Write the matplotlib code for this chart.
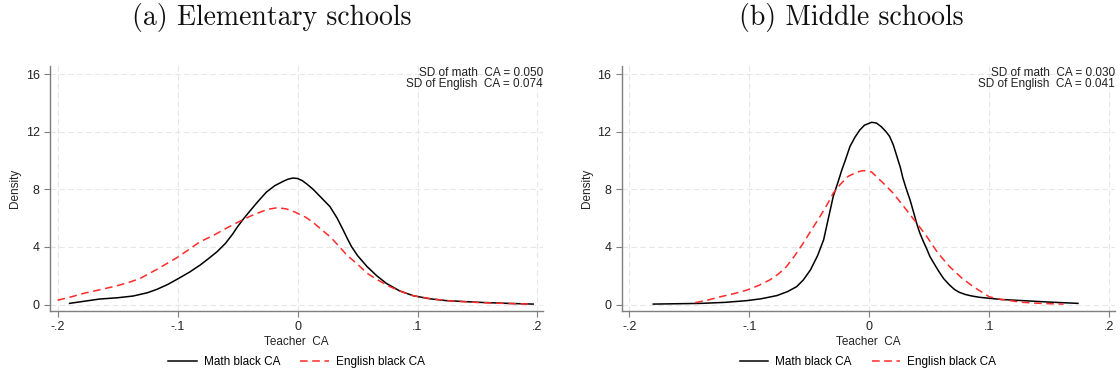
import matplotlib
matplotlib.use("Agg")
import matplotlib.pyplot as plt

# ---- data ----
elem_math_x = [-0.19, -0.165, -0.15, -0.137, -0.125, -0.117, -0.108, -0.1, -0.09, -0.081,
               -0.074, -0.067, -0.06, -0.054, -0.05, -0.045, -0.04, -0.033, -0.026, -0.019,
               -0.012, -0.008, -0.004, 0.0, 0.004, 0.008, 0.013, 0.02, 0.027,
               0.033, 0.038, 0.042, 0.045, 0.05, 0.058, 0.066, 0.074, 0.085, 0.0965, 0.11,
               0.124, 0.152, 0.175, 0.1965]
elem_math_y = [0.08, 0.38, 0.47, 0.59, 0.82, 1.06, 1.4, 1.77, 2.25, 2.75,
               3.2, 3.67, 4.25, 4.9, 5.4, 5.95, 6.46, 7.15, 7.8, 8.25,
               8.55, 8.7, 8.78, 8.75, 8.6, 8.35, 8.0, 7.4, 6.8,
               6.0, 5.18, 4.5, 4.02, 3.4, 2.63, 2.0, 1.47, 0.95, 0.61, 0.4,
               0.27, 0.15, 0.08, 0.03]

elem_eng_x = [-0.2, -0.19, -0.178, -0.165, -0.151, -0.14, -0.131, -0.117, -0.1, -0.09,
              -0.081, -0.07, -0.062, -0.05, -0.04, -0.03, -0.024, -0.017, -0.01, -0.005,
              -0.0007, 0.007, 0.013, 0.02, 0.027, 0.034, 0.041, 0.05, 0.058, 0.067,
              0.077, 0.0865, 0.0965, 0.11, 0.124, 0.15, 0.175, 0.1965]
elem_eng_y = [0.3, 0.5, 0.78, 1.02, 1.29, 1.55, 1.82, 2.45, 3.28, 3.85,
              4.37, 4.8, 5.18, 5.7, 6.11, 6.45, 6.62, 6.72, 6.65, 6.52,
              6.36, 6.05, 5.7, 5.2, 4.72, 4.1, 3.44, 2.8, 2.17, 1.7,
              1.24, 0.9, 0.61, 0.42, 0.27, 0.14, 0.07, 0.03]

mid_math_x = [-0.18, -0.14, -0.12, -0.102, -0.09, -0.077, -0.068, -0.0605, -0.055, -0.049,
              -0.046, -0.043, -0.038, -0.034, -0.03, -0.026, -0.023, -0.02, -0.016, -0.012,
              -0.008, -0.004, 0.002, 0.006, 0.01, 0.014, 0.017, 0.02, 0.023, 0.026,
              0.028, 0.031, 0.034, 0.037, 0.0395, 0.042, 0.045, 0.048, 0.0506, 0.054,
              0.058, 0.062, 0.067, 0.071, 0.075, 0.08, 0.085, 0.092, 0.11, 0.128,
              0.15, 0.174]
mid_math_y = [0.03, 0.08, 0.15, 0.27, 0.4, 0.62, 0.9, 1.24, 1.7, 2.4,
              2.9, 3.4, 4.49, 6.0, 7.5, 8.5, 9.3, 10.0, 10.98, 11.6,
              12.1, 12.45, 12.65, 12.6, 12.35, 12.0, 11.67, 11.1, 10.3, 9.5,
              8.8, 8.0, 7.27, 6.4, 5.65, 5.0, 4.4, 3.85, 3.33, 2.85,
              2.3, 1.8, 1.35, 1.05, 0.85, 0.7, 0.6, 0.5, 0.35, 0.27,
              0.17, 0.08]

mid_eng_x = [-0.145, -0.135, -0.124, -0.113, -0.102, -0.092, -0.083, -0.076, -0.069, -0.062,
             -0.055, -0.048, -0.041, -0.035, -0.03, -0.024, -0.0175, -0.01, -0.005, 0.002,
             0.0117, 0.02, 0.031, 0.04, 0.048, 0.057, 0.067, 0.077, 0.0867, 0.1,
             0.11, 0.128, 0.145, 0.162]
mid_eng_y = [0.13, 0.3, 0.54, 0.75, 1.0, 1.33, 1.7, 2.1, 2.63, 3.4,
             4.26, 5.2, 6.11, 6.95, 7.73, 8.35, 8.9, 9.2, 9.3, 9.2,
             8.43, 7.73, 6.57, 5.6, 4.72, 3.6, 2.63, 1.85, 1.24, 0.54,
             0.35, 0.15, 0.07, 0.03]

xticks = [-0.2, -0.1, 0, 0.1, 0.2]
xtick_labels = ["-.2", "-.1", "0", ".1", ".2"]
yticks = [0, 4, 8, 12, 16]

titles = ["(a) Elementary schools", "(b) Middle schools"]
sd_math = ["0.050", "0.030"]
sd_eng = ["0.074", "0.041"]

plt.rcParams["font.family"] = ["Liberation Sans", "DejaVu Sans"]

fig = plt.figure(figsize=(11.2, 3.75), dpi=100)
ax1 = fig.add_axes([50 / 1120, 1 - 311 / 375, 493 / 1120, 245 / 375])
ax2 = fig.add_axes([621.7 / 1120, 1 - 311 / 375, 493 / 1120, 245 / 375])

panels = [(ax1, elem_math_x, elem_math_y, elem_eng_x, elem_eng_y),
          (ax2, mid_math_x, mid_math_y, mid_eng_x, mid_eng_y)]

for i, (ax, mx, my, ex, ey) in enumerate(panels):
    ax.plot(mx, my, color="black", lw=1.1, label="Math black CA")
    ax.plot(ex, ey, color="#ff2a2a", lw=1.1, dashes=(5, 3), label="English black CA")

    ax.set_xlim(-0.2063, 0.2046)
    ax.set_ylim(-0.45, 16.56)
    ax.set_xticks(xticks)
    ax.set_xticklabels(xtick_labels)
    ax.set_yticks(yticks)

    ax.grid(True, color="#e6e6e6", lw=0.8, ls=(0, (5, 3)))
    ax.set_axisbelow(True)
    for s in ["top", "right"]:
        ax.spines[s].set_visible(False)
    for s in ["left", "bottom"]:
        ax.spines[s].set_color("#7f7f7f")
        ax.spines[s].set_linewidth(1.0)
    ax.tick_params(colors="#7f7f7f", labelcolor="#222222", labelsize=9,
                   length=4, width=0.8, direction="out")

    ax.set_xlabel("Teacher  CA", fontsize=8.5, color="#222222", labelpad=2)
    ax.set_ylabel("Density", fontsize=8.5, color="#222222", labelpad=3)

    ax.text(1.0, 0.97, f"SD of math  CA = {sd_math[i]}", transform=ax.transAxes,
            ha="right", va="center", fontsize=8.5, color="#222222")
    ax.text(1.0, 0.925, f"SD of English  CA = {sd_eng[i]}", transform=ax.transAxes,
            ha="right", va="center", fontsize=8.5, color="#222222")

    ax.legend(loc="center", bbox_to_anchor=(0.5, -0.208), ncol=2, frameon=False,
              fontsize=8.5, handlelength=2.4, handletextpad=0.6, columnspacing=1.7)

fig.text(272 / 1120, 1 - 18 / 375, titles[0], ha="center", va="center",
         fontsize=20, family="cmr10", color="#111111")
fig.text(851 / 1120, 1 - 18 / 375, titles[1], ha="center", va="center",
         fontsize=20, family="cmr10", color="#111111")

fig.savefig("out.png", dpi=100)
